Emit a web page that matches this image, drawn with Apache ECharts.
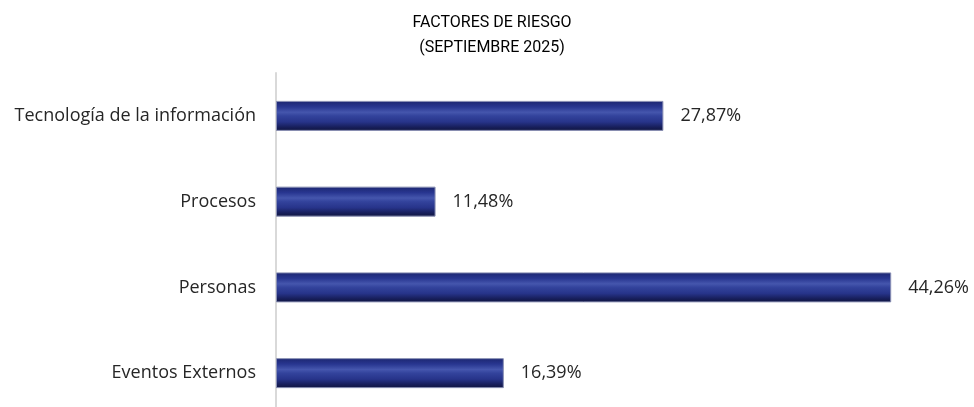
<!DOCTYPE html>
<html><head><meta charset="utf-8">
<script src="https://cdn.jsdelivr.net/npm/echarts@6/dist/echarts.min.js"></script>
<style>html,body{margin:0;padding:0;background:#fff}#c{width:974px;height:407px}</style>
</head><body><div id="c"></div>
<script>
const categories = ['Tecnología de la información', 'Procesos', 'Personas', 'Eventos Externos'];
const values = [27.87, 11.48, 44.26, 16.39];
const titleLines = ['FACTORES DE RIESGO', '(SEPTIEMBRE 2025)'];

const chart = echarts.init(document.getElementById('c'));
const barColor = new echarts.graphic.LinearGradient(0, 0, 0, 1, [
  {offset: 0, color: '#1c2670'},
  {offset: 0.2, color: '#283690'},
  {offset: 0.38, color: '#4556ad'},
  {offset: 0.5, color: '#33439c'},
  {offset: 0.7, color: '#27348a'},
  {offset: 0.88, color: '#171e5a'},
  {offset: 1, color: '#10153f'}
]);
chart.setOption({
  animation: false,
  title: {
    text: titleLines.join('\n'),
    left: 487, top: 5, textAlign: 'center',
    textStyle: {fontFamily: 'Roboto', fontSize: 16, fontWeight: 'normal', color: '#000', lineHeight: 25}
  },
  grid: {left: 276, top: 73, width: 695, height: 343, containLabel: false, outerBoundsMode: 'none'},
  xAxis: {type: 'value', min: 0, max: 50, show: false},
  yAxis: {
    type: 'category', data: categories, inverse: true,
    axisLine: {show: true, lineStyle: {color: '#d9d9d9', width: 2}},
    axisTick: {show: false},
    axisLabel: {margin: 20, fontFamily: 'Open Sans', fontSize: 18, color: '#262626'}
  },
  series: [{
    type: 'bar', data: values, barWidth: 30,
    itemStyle: {color: barColor, borderColor: '#8a90b4', borderWidth: 1},
    label: {
      show: true, position: 'right', distance: 17,
      fontFamily: 'Open Sans', fontSize: 18, color: '#262626',
      formatter: p => p.value.toFixed(2).replace('.', ',') + '%'
    }
  }]
});
</script></body></html>
